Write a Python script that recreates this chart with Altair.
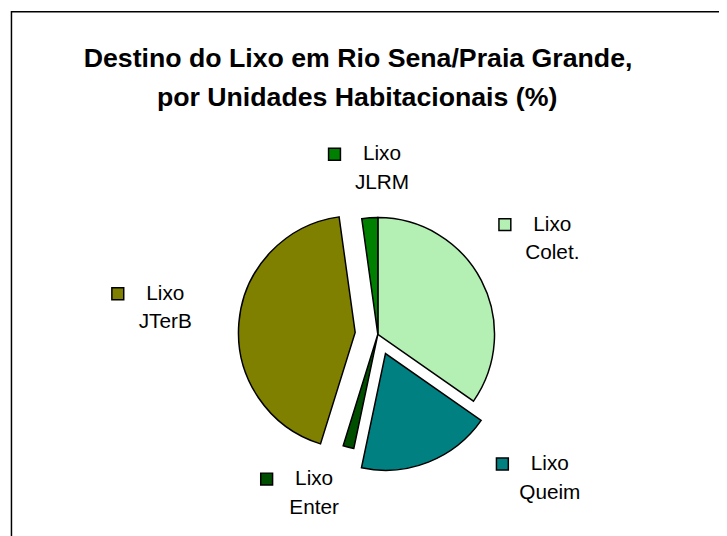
import math
import altair as alt
import pandas as pd

# ---------------- data ----------------
CATEGORIES = ["Lixo Colet.", "Lixo Queim", "Lixo Enter", "Lixo JTerB", "Lixo JLRM"]
VALUES = [34.7, 18.6, 1.5, 43.0, 2.2]
COLORS = ["#b4f0b4", "#008080", "#004f00", "#808000", "#008000"]
TITLE_LINES = ["Destino do Lixo em Rio Sena/Praia Grande,", "por Unidades Habitacionais (%)"]

# ---------------- styles / layout ----------------
W, H = 719, 528
CX, CY, R = 374, 327, 118          # pie centre and radius (px)
LABEL_R = 190                      # base label distance from centre
EXPLODE = {"Lixo Queim": 21, "Lixo JTerB": 23}
LABEL_NUDGE = {                    # manual label placement tweaks (px)
    "Lixo Colet.": (8, -8.6),
    "Lixo Queim": (104, -31),
    "Lixo Enter": (-16.6, -23),
    "Lixo JTerB": (-25.6, -11),
    "Lixo JLRM": (17.3, 22),
}
FONT = "Liberation Sans"
LINE_GAP = 14.5

df = pd.DataFrame({"category": CATEGORIES, "value": VALUES,
                   "order": list(range(len(CATEGORIES)))})
df["explode"] = [EXPLODE.get(c, 0) for c in CATEGORIES]
df["ndx"] = [LABEL_NUDGE[c][0] for c in CATEGORIES]
df["ndy"] = [LABEL_NUDGE[c][1] for c in CATEGORIES]

fill_scale = alt.Scale(domain=CATEGORIES, range=COLORS)

base = (
    alt.Chart(df)
    .transform_joinaggregate(total="sum(value)")
    .transform_window(cum="sum(value)", sort=[alt.SortField("order")], frame=[None, 0])
    .transform_calculate(start="100*(datum.cum-datum.value)/datum.total")
    .transform_calculate(end="100*datum.cum/datum.total")
    .transform_calculate(mid="2*PI*(datum.cum-datum.value/2)/datum.total")
    .transform_calculate(sx=f"{CX}+datum.explode*sin(datum.mid)")
    .transform_calculate(sy=f"{CY}-datum.explode*cos(datum.mid)")
    .transform_calculate(lx=f"{CX}+{LABEL_R}*sin(datum.mid)+datum.ndx")
    .transform_calculate(ly=f"{CY}-{LABEL_R}*cos(datum.mid)+datum.ndy")
    .transform_calculate(line1="split(datum.category,' ')[0]")
    .transform_calculate(line2="split(datum.category,' ')[1]")
)

pie = base.mark_arc(outerRadius=R, stroke="black", strokeWidth=1.5).encode(
    theta=alt.Theta("start:Q", scale=alt.Scale(domain=[0, 100], range=[0, 2 * math.pi]), stack=None),
    theta2="end:Q",
    x=alt.X("sx:Q", scale=None, axis=None),
    y=alt.Y("sy:Q", scale=None, axis=None),
    fill=alt.Fill("category:N", scale=fill_scale, legend=None),
)

lx = alt.X("lx:Q", scale=None, axis=None)
ly = alt.Y("ly:Q", scale=None, axis=None)

markers = base.mark_square(size=144, opacity=1, stroke="black", strokeWidth=1.5,
                           xOffset=-48, yOffset=-LINE_GAP).encode(
    x=lx, y=ly, fill=alt.Fill("category:N", scale=fill_scale, legend=None))

lab1 = base.mark_text(font=FONT, fontSize=21, baseline="middle", dy=-LINE_GAP,
                      color="black").encode(x=lx, y=ly, text="line1:N")
lab2 = base.mark_text(font=FONT, fontSize=21, baseline="middle", dy=LINE_GAP,
                      color="black").encode(x=lx, y=ly, text="line2:N")

one = pd.DataFrame({"k": [0]})
title1 = alt.Chart(one).mark_text(font=FONT, fontSize=27, fontWeight="bold",
                                  baseline="middle", color="black").encode(
    x=alt.value(354), y=alt.value(49), text=alt.value(TITLE_LINES[0]))
title2 = alt.Chart(one).mark_text(font=FONT, fontSize=27, fontWeight="bold",
                                  baseline="middle", color="black").encode(
    x=alt.value(353), y=alt.value(88), text=alt.value(TITLE_LINES[1]))

frame_top = alt.Chart(one).mark_rule(color="black", strokeWidth=1.5).encode(
    x=alt.value(3.5), x2=alt.value(W + 5), y=alt.value(0.75))
frame_left = alt.Chart(one).mark_rule(color="black", strokeWidth=1.5).encode(
    x=alt.value(3.5), y=alt.value(0), y2=alt.value(H + 5))

chart = (
    alt.layer(frame_top, frame_left, pie, markers, lab1, lab2, title1, title2)
    .properties(width=W, height=H, autosize=alt.AutoSizeParams(type="none"), padding=0)
    .configure_view(stroke=None)
)

chart.save("out.html", embed_options={"renderer": "svg", "actions": False})
